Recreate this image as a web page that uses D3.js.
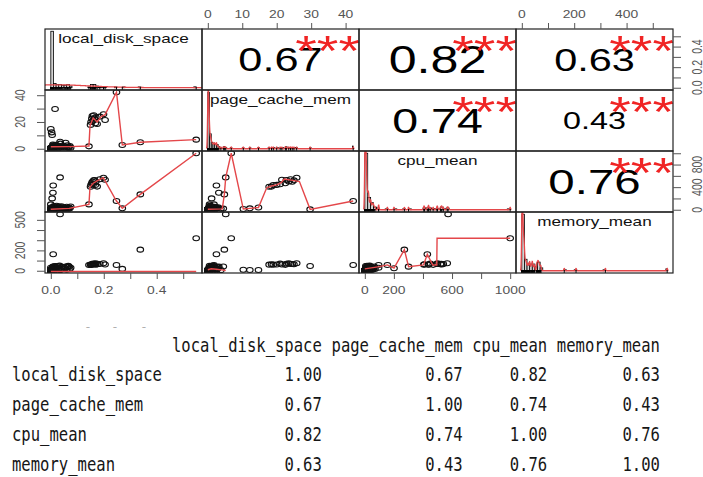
<!DOCTYPE html>
<html><head><meta charset="utf-8">
<script src="https://cdn.jsdelivr.net/npm/d3@7/dist/d3.min.js"></script>
<style>html,body{margin:0;padding:0;background:#fff;overflow:hidden}svg{display:block}</style>
</head><body>
<svg id="chart" width="703" height="477"></svg>
<script>
// ---------------- DATA ----------------
const variables = ["local_disk_space", "page_cache_mem", "cpu_mean", "memory_mean"];

const localDiskSpace = [
  0.000,0.001,0.000,0.002,0.001,0.000,0.003,0.001,0.002,0.000,0.001,0.000,0.002,0.001,0.003,0.000,0.001,0.002,0.000,0.001,
  0.000,0.002,0.001,0.000,0.003,0.001,0.000,0.002,0.001,0.000,0.001,0.002,0.000,0.001,0.003,0.000,0.002,0.001,0.000,0.001,
  0.000,0.001,0.002,0.000,0.003,0.001,0.004,0.002,0.000,0.005,0.003,0.001,0.006,0.002,0.004,0.000,
  0.000,0.002,0.004,0.006,0.008,0.010,0.012,0.015,0.018,0.020,0.022,0.025,0.028,0.030,0.033,0.036,
  0.040,0.043,0.046,0.050,0.053,0.056,0.060,0.063,0.066,0.069,0.072,0.075,
  0.000,0.000,0.003,0.005,0.016,0.009,0.005,0.008,0.035,0.144,
  0.150,0.152,0.155,0.157,0.160,0.162,0.165,0.168,0.170,0.175,0.185,0.199,0.205,
  0.248,0.270,0.338,0.549];
const pageCacheMem = [
  0.0,0.1,0.2,0.0,0.3,0.1,0.0,0.2,0.4,0.1,0.0,0.3,0.1,0.2,0.0,0.1,0.4,0.0,0.2,0.1,
  0.3,0.0,0.1,0.2,0.0,0.4,0.1,0.0,0.2,0.3,0.1,0.0,0.2,0.1,0.0,0.3,0.1,0.2,0.0,0.1,
  0.1,0.3,0.0,0.5,0.2,0.8,0.4,0.1,0.6,0.3,0.9,0.2,0.5,0.7,0.0,0.4,
  0.2,0.5,1.0,0.3,1.5,2.0,0.8,2.5,1.2,3.0,0.6,1.8,2.2,0.4,1.4,3.8,
  0.9,1.6,2.4,0.7,1.9,4.5,1.1,2.6,0.5,1.3,2.1,0.8,
  0.5,14.7,12.2,10.3,29.7,2.5,1.1,3.2,5.2,1.8,
  17.8,20.0,22.5,24.5,21.0,25.0,22.8,19.0,23.5,18.5,24.0,25.8,21.5,
  42.2,2.8,4.8,6.8];
const cpuMean = [
  0,3,1,5,2,8,4,0,6,2,9,1,3,7,0,4,2,10,5,1,
  3,6,0,2,12,4,1,8,3,0,5,2,7,1,4,0,9,3,6,2,
  2,6,10,4,14,8,18,3,12,22,5,16,9,26,7,11,
  5,12,20,35,8,50,65,28,15,42,70,22,10,55,33,18,
  60,25,45,12,38,20,52,30,15,40,25,58,
  95,40,25,12,7,430,201,301,573,95,
  406,440,470,496,450,520,526,437,500,410,540,567,530,
  155,25,272,1000];
const memoryMean = [
  0,2,1,4,0,3,6,1,2,5,0,3,1,7,2,0,4,1,8,2,
  1,0,5,2,3,0,6,1,2,4,0,3,1,9,2,0,5,1,3,0,
  1,4,7,2,10,5,3,12,6,9,15,3,8,2,11,5,
  3,8,15,22,30,12,40,5,25,35,18,45,10,28,50,6,
  20,38,14,32,24,42,9,36,48,40,16,30,
  30,8,8,10,47,162,25,40,555,57,
  60,62,58,66,70,64,68,60,72,63,66,73,62,
  57,18,207,319];

// correlation matrix (as printed)
const corValues = [
  [1.00, 0.67, 0.82, 0.63],
  [0.67, 1.00, 0.74, 0.43],
  [0.82, 0.74, 1.00, 0.76],
  [0.63, 0.43, 0.76, 1.00]];
const corStars = "***";

// smoothed (red) lines: [x, y]
const smoothLocalPage = [[0,1.5],[0.07,1.6],[0.144,2.0],[0.148,17],[0.16,23],[0.175,20],[0.19,24],[0.205,25.5],[0.248,42.2],[0.27,2.8],[0.338,4.8],[0.549,6.8]];
const smoothLocalCpu = [[0,8],[0.07,25],[0.144,95],[0.148,400],[0.16,470],[0.175,510],[0.198,567],[0.248,155],[0.27,25],[0.338,272],[0.549,1000]];
const smoothLocalMem = [[0,-8],[0.549,-8]];
const smoothPageCpu = [[0,10],[4.2,15],[4.8,272],[5.2,573],[6.8,1000],[10.3,12],[12.2,25],[14.7,40],[17.1,390],[18.5,420],[20,440],[21.3,480],[22.2,545],[24.7,520],[26.6,500],[29.7,7],[42.2,155]];
const smoothPageMem = [[0,10],[1,20],[2.5,15],[4,8],[5.2,3]];
const smoothCpuMem = [[0,18],[100,40],[155,57],[201,25],[272,207],[301,40],[404,57],[430,162],[467,57],[495,57],[497,319],[1000,319]];

// axis ticks & labels
const localTicks = [0,0.1,0.2,0.3,0.4,0.5];
const localLabels = [0,0.2,0.4];
const pageTicks = [0,10,20,30,40];
const pageTopLabels = [0,10,20,30,40];
const pageLeftLabels = [0,20,40];
const cpuTicks = [0,200,400,600,800,1000];
const cpuBottomLabels = [0,200,600,1000];
const cpuRightLabels = [0,400,800];
const memTicks = [0,100,200,300,400,500];
const memTopLabels = [0,200,400];
const memLeftLabels = [0,200,500];

// ---------------- DRAW ----------------
const svg = d3.select("#chart");
const FONT = "'Liberation Sans', Arial, Helvetica, sans-serif";
const SX = 1.32;               // horizontal stretch of the source picture
const L = 45, T = 29, CW = 157, CH = 61;
const cols = [localDiskSpace, pageCacheMem, cpuMean, memoryMean];
const N = localDiskSpace.length;
const smoothLines = {"10": smoothLocalPage, "20": smoothLocalCpu, "30": smoothLocalMem,
                     "21": smoothPageCpu, "31": smoothPageMem, "32": smoothCpuMem};
const histBins = [60, 60, 60, 60];
const kdeBw = [0.2, 0.003, 0.003, 0.003];
const RED = "#e4474a";

const padExt = e => { const p = (e[1]-e[0])*0.04; return [e[0]-p, e[1]+p]; };
const xS = cols.map((c,i)=>d3.scaleLinear().domain(padExt(d3.extent(c))).range([L+i*CW, L+(i+1)*CW]));
const yS = cols.map((c,i)=>d3.scaleLinear().domain(padExt(d3.extent(c))).range([T+(i+1)*CH, T+i*CH]));

function sText(g, x, y, txt, size, anchor, fill, rotate, sx) {
  let tr = `translate(${x},${y}) scale(${sx||SX},1)` + (rotate ? ` rotate(${rotate})` : "");
  return g.append("text").attr("transform", tr).attr("text-anchor", anchor||"middle")
    .attr("font-size", size).attr("fill", fill||"#000").text(txt);
}

const defs = svg.append("defs");
const root = svg.append("g").attr("font-family", FONT);

for (let r=0;r<4;r++) for (let c=0;c<4;c++) {
  defs.append("clipPath").attr("id",`cp${r}${c}`).append("rect")
    .attr("x",L+c*CW).attr("y",T+r*CH).attr("width",CW).attr("height",CH);
  const g = root.append("g").attr("clip-path",`url(#cp${r}${c})`);
  const x0 = L+c*CW, y0 = T+r*CH;
  if (r>c) {
    g.selectAll("ellipse").data(d3.range(N)).join("ellipse")
      .attr("cx",k=>xS[c](cols[c][k])).attr("cy",k=>yS[r](cols[r][k]))
      .attr("rx",3.3).attr("ry",2.5).attr("fill","none").attr("stroke","#111").attr("stroke-width",1.1);
    g.append("path").datum(smoothLines[`${r}${c}`])
      .attr("d", d3.line().x(d=>xS[c](d[0])).y(d=>yS[r](d[1])))
      .attr("fill","none").attr("stroke",RED).attr("stroke-width",1.4);
  } else if (r===c) {
    const vals = cols[r], ext = d3.extent(vals);
    const bins = d3.bin().domain(ext).thresholds(histBins[r])(vals);
    const dens = bins.map(b=>b.length/(N*(b.x1-b.x0)));
    const m = d3.max(dens);
    const yH = d3.scaleLinear().domain([-0.04*m, 1.04*m]).range([y0+CH, y0]);
    g.selectAll("rect").data(bins.filter(b=>b.length>0)).join("rect")
      .attr("x",b=>xS[r](b.x0)).attr("width",b=>Math.max(0.5,xS[r](b.x1)-xS[r](b.x0)))
      .attr("y",b=>yH(b.length/(N*(b.x1-b.x0)))).attr("height",b=>yH(0)-yH(b.length/(N*(b.x1-b.x0))))
      .attr("fill","#d3d3d3").attr("stroke","#000").attr("stroke-width",0.8);
    const bw = kdeBw[r]*(ext[1]-ext[0]);
    const xs = d3.range(1025).map(i=>ext[0]-3*bw + i*(ext[1]-ext[0]+6*bw)/1024);
    const kde = xs.map(x=>[x, d3.sum(vals, v=>Math.exp(-0.5*((x-v)/bw)**2))/(N*bw*Math.sqrt(2*Math.PI))]);
    g.append("path").datum(kde).attr("d", d3.line().x(d=>xS[r](d[0])).y(d=>yH(d[1])))
      .attr("fill","none").attr("stroke",RED).attr("stroke-width",1.3);
    g.selectAll("line.rug").data(vals).join("line").attr("class","rug")
      .attr("x1",v=>xS[r](v)).attr("x2",v=>xS[r](v)).attr("y1",y0+CH).attr("y2",y0+CH-3)
      .attr("stroke","#000").attr("stroke-width",1);
    sText(root, x0+CW/2, y0+14, variables[r], 13, "middle", "#111");
  } else {
    const v = corValues[r][c];
    const fs = d3.scaleLinear().domain([0.43,0.82]).range([24.5,38])(v);
    sText(root, x0+CW/2, y0+CH/2+0.358*fs, v.toFixed(2), fs, "middle", "#000");
    sText(root, x0+0.8*CW, y0+36, corStars, 42, "middle", "#f02424");
  }
}

// panel borders
for (let r=0;r<4;r++) for (let c=0;c<4;c++)
  root.append("rect").attr("x",L+c*CW).attr("y",T+r*CH).attr("width",CW).attr("height",CH)
    .attr("fill","none").attr("stroke","#222").attr("stroke-width",1.2);

// axes (ticks through d3 axes, labels placed with the same scales)
const AX = "#555", AFS = 10.5;
function ticksOnly(gen, tr) {
  const g = root.append("g").attr("transform", tr).call(gen);
  g.select(".domain").remove();
  g.selectAll("text").remove();
  g.selectAll("line").attr("stroke", AX).attr("stroke-width",1);
}
ticksOnly(d3.axisTop(xS[1]).tickValues(pageTicks).tickSize(6), `translate(0,${T})`);
ticksOnly(d3.axisTop(xS[3]).tickValues(memTicks).tickSize(6), `translate(0,${T})`);
ticksOnly(d3.axisBottom(xS[0]).tickValues(localTicks).tickSize(6), `translate(0,${T+4*CH})`);
ticksOnly(d3.axisBottom(xS[2]).tickValues(cpuTicks).tickSize(6), `translate(0,${T+4*CH})`);
ticksOnly(d3.axisLeft(yS[1]).tickValues(pageTicks).tickSize(8), `translate(${L},0)`);
ticksOnly(d3.axisLeft(yS[3]).tickValues(memTicks).tickSize(8), `translate(${L},0)`);
ticksOnly(d3.axisRight(yS[0]).tickValues(localTicks).tickSize(8), `translate(${L+4*CW},0)`);
ticksOnly(d3.axisRight(yS[2]).tickValues(cpuTicks).tickSize(8), `translate(${L+4*CW},0)`);

const fmt1 = d3.format(".1f"), fmt0 = d3.format("d");
pageTopLabels.forEach(v=>sText(root, xS[1](v), T-14.5+0.358*AFS, fmt0(v), AFS, "middle", AX));
memTopLabels.forEach(v=>sText(root, xS[3](v), T-14.5+0.358*AFS, fmt0(v), AFS, "middle", AX));
localLabels.forEach(v=>sText(root, xS[0](v), T+4*CH+17+0.358*AFS, fmt1(v), AFS, "middle", AX));
cpuBottomLabels.forEach(v=>sText(root, xS[2](v), T+4*CH+17+0.358*AFS, fmt0(v), AFS, "middle", AX));
pageLeftLabels.forEach(v=>sText(root, 20, yS[1](v), fmt0(v), AFS, "middle", AX, -90).attr("dy","0.36em"));
memLeftLabels.forEach(v=>sText(root, 20, yS[3](v), fmt0(v), AFS, "middle", AX, -90).attr("dy","0.36em"));
localLabels.forEach(v=>sText(root, 697, yS[0](v), fmt1(v), AFS, "middle", AX, -90).attr("dy","0.36em"));
cpuRightLabels.forEach(v=>sText(root, 697, yS[2](v), fmt0(v), AFS, "middle", AX, -90).attr("dy","0.36em"));

// faint marks above the printed table
[88,115,144].forEach(x=>sText(root, x, 330, "-", 10, "middle", "#aaa"));

// printed correlation matrix
const tbl = svg.append("g").attr("font-family","'DejaVu Sans Mono', 'Liberation Mono', monospace");
const CWc = 9.39, TX = 12, TSX = 0.82, TFS = 19;
const nameW = d3.max(variables, v=>v.length);
const colW = variables.map(v=>Math.max(v.length, 4));
const ends = []; let pos = nameW; colW.forEach(w=>{pos += 1+w; ends.push(pos);});
const rowY = [352,381,411,441,471];
const TC = "#161616";
variables.forEach((v,j)=>sText(tbl, TX+ends[j]*CWc, rowY[0], v, TFS, "end", TC, 0, TSX));
variables.forEach((v,i)=>{
  sText(tbl, TX, rowY[i+1], v, TFS, "start", TC, 0, TSX);
  corValues[i].forEach((val,j)=>sText(tbl, TX+ends[j]*CWc, rowY[i+1], val.toFixed(2), TFS, "end", TC, 0, TSX));
});
</script>
</body></html>
